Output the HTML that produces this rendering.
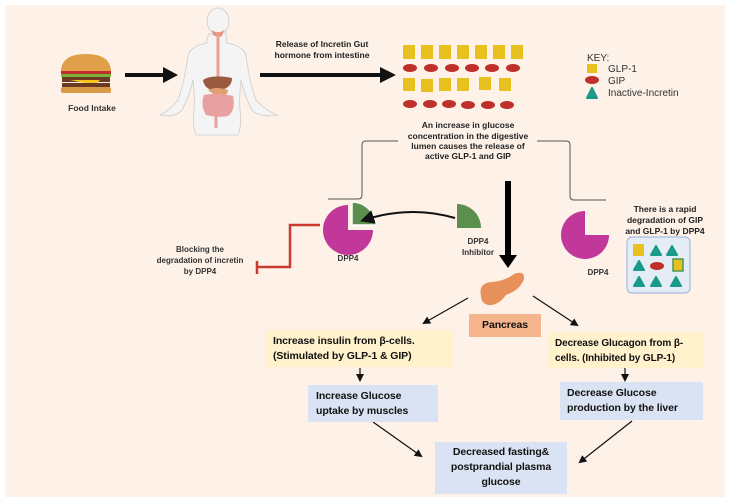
<!DOCTYPE html>
<html><head><meta charset="utf-8"><style>
body{margin:0;background:#fff;width:730px;height:504px;overflow:hidden;font-family:"Liberation Sans",Arial,sans-serif}
svg{position:absolute;left:0;top:0}
.b{position:absolute;font-weight:bold;font-size:10.5px;color:#111;line-height:15px;box-sizing:border-box;white-space:nowrap;letter-spacing:-0.1px}
</style></head><body>
<svg width="730" height="504" viewBox="0 0 730 504">
<defs>
<marker id="ah" markerWidth="8" markerHeight="8" refX="6" refY="4" orient="auto" markerUnits="userSpaceOnUse"><path d="M0,0 L8,4 L0,8 Z" fill="#111"/></marker>
<marker id="ah2" markerWidth="14" markerHeight="14" refX="10" refY="7" orient="auto" markerUnits="userSpaceOnUse"><path d="M0,0 L14,7 L0,14 Z" fill="#111"/></marker>
</defs>
<rect x="5" y="5" width="720" height="492" fill="#fdf1e8"/>
<!-- burger -->
<path d="M61,72 Q61,54 86,54 Q111,54 111,72 Z" fill="#e0a04a"/>
<rect x="61" y="71" width="50" height="3" fill="#c0302a"/>
<rect x="61" y="74" width="50" height="3" fill="#7bb23a"/>
<rect x="62" y="77" width="48" height="5" fill="#6a3a22"/>
<path d="M70,80 L100,80 L95,85 Z" fill="#f5c518"/>
<rect x="62" y="83" width="48" height="4" fill="#6a3a22"/>
<rect x="61" y="87" width="50" height="6" rx="2" fill="#d99a48"/>
<text x="92" y="111" font-size="8.5" font-weight="bold" fill="#333" text-anchor="middle">Food Intake</text>
<!-- arrow 1 -->
<line x1="125" y1="75" x2="165" y2="75" stroke="#111" stroke-width="4"/>
<path d="M163,67 L178,75 L163,83 Z" fill="#111"/>
<!-- body -->
<path d="M209,34 Q206,40 207,43 Q190,46 188,56 Q185,80 178,100 Q170,110 160,115 Q175,118 182,110 Q190,95 193,80 Q195,100 194,110 Q192,125 196,135 L238,135 Q242,125 240,110 Q239,100 241,80 Q244,95 252,110 Q259,118 277,115 Q265,110 256,100 Q249,80 246,56 Q244,46 227,43 Q226,38 226,32 Z" fill="#f4f4f4" stroke="#ccc" stroke-width="0.8"/>
<ellipse cx="218" cy="21" rx="11" ry="13" fill="#f4f4f4" stroke="#ccc" stroke-width="0.8"/>
<path d="M212,30 Q218,35 224,30 L222,36 Q218,38 213,35 Z" fill="#e89080"/>
<path d="M218,32 L218,78" stroke="#eaa090" stroke-width="3" fill="none"/>
<path d="M203,80 Q212,74 232,78 Q232,88 220,90 Q205,92 203,80 Z" fill="#9a5a40"/>
<path d="M208,90 Q216,86 228,90 Q228,97 216,96 Z" fill="#e0a070"/>
<path d="M204,95 Q218,92 233,96 Q236,110 228,116 Q218,118 206,115 Q200,105 204,95 Z" fill="#e8a0a0"/>
<path d="M216,115 L216,128" stroke="#e8a0a0" stroke-width="3"/>
<!-- arrow 2 -->
<line x1="260" y1="75" x2="382" y2="75" stroke="#111" stroke-width="4"/>
<path d="M380,67 L396,75 L380,83 Z" fill="#111"/>
<text x="322" y="47" font-size="8.5" font-weight="bold" fill="#222" text-anchor="middle">Release of Incretin Gut</text>
<text x="322" y="58" font-size="8.5" font-weight="bold" fill="#222" text-anchor="middle">hormone from intestine</text>
<!-- incretins -->
<g fill="#e8c020">
<rect x="403" y="45" width="12" height="14"/><rect x="421" y="45" width="12" height="14"/><rect x="439" y="45" width="12" height="14"/><rect x="457" y="45" width="12" height="14"/><rect x="475" y="45" width="12" height="14"/><rect x="493" y="45" width="12" height="14"/><rect x="511" y="45" width="12" height="14"/>
<rect x="403" y="78" width="12" height="13"/><rect x="421" y="79" width="12" height="13"/><rect x="439" y="78" width="12" height="13"/><rect x="457" y="78" width="12" height="13"/><rect x="479" y="77" width="12" height="13"/><rect x="499" y="78" width="12" height="13"/>
</g>
<g fill="#c0302a">
<ellipse cx="410" cy="68" rx="7" ry="4"/><ellipse cx="431" cy="68" rx="7" ry="4"/><ellipse cx="452" cy="68" rx="7" ry="4"/><ellipse cx="472" cy="68" rx="7" ry="4"/><ellipse cx="492" cy="68" rx="7" ry="4"/><ellipse cx="513" cy="68" rx="7" ry="4"/>
<ellipse cx="410" cy="104" rx="7" ry="4"/><ellipse cx="430" cy="104" rx="7" ry="4"/><ellipse cx="449" cy="104" rx="7" ry="4"/><ellipse cx="468" cy="105" rx="7" ry="4"/><ellipse cx="488" cy="105" rx="7" ry="4"/><ellipse cx="507" cy="105" rx="7" ry="4"/>
</g>
<!-- key -->
<text x="587" y="61" font-size="10" fill="#333">KEY:</text>
<rect x="587" y="64" width="10" height="9" fill="#e8c020"/><text x="608" y="72" font-size="10" fill="#333">GLP-1</text>
<ellipse cx="592" cy="80" rx="7" ry="4" fill="#c0302a"/><text x="608" y="84" font-size="10" fill="#333">GIP</text>
<path d="M587,98 L592,88 L597,98 Z" fill="#1a9a8a" stroke="#1a9a8a" stroke-width="2" stroke-linejoin="round"/><text x="608" y="96" font-size="10" fill="#333">Inactive-Incretin</text>
<g font-size="8.5" font-weight="bold" fill="#222" text-anchor="middle">
<text x="468" y="128">An increase in glucose</text>
<text x="468" y="139">concentration in the digestive</text>
<text x="468" y="149">lumen causes the release of</text>
<text x="468" y="159">active GLP-1 and GIP</text>
</g>
<path d="M328,199 L358,199 Q362,199 362,195 L362,145 Q362,141 366,141 L398,141" fill="none" stroke="#555" stroke-width="1"/>
<path d="M537,141 L566,141 Q570,141 570,145 L570,196 Q570,200 574,200 L606,200" fill="none" stroke="#555" stroke-width="1"/>
<!-- big down arrow -->
<line x1="508" y1="181" x2="508" y2="256" stroke="#000" stroke-width="6"/>
<path d="M499,255 L508,268 L517,255 Z" fill="#000"/>
<!-- left DPP4 -->
<path d="M348,230 L348,205 A25,25 0 1 0 373,230 Z" fill="#c2379a"/>
<path d="M352,225 L352,202 A24,24 0 0 1 376,225 Z" fill="#5a8f4e" stroke="#fff" stroke-width="1.5"/>
<text x="348" y="261" font-size="8" font-weight="bold" fill="#333" text-anchor="middle">DPP4</text>
<path d="M455,218 Q410,205 364,220" fill="none" stroke="#111" stroke-width="2" marker-end="url(#ah2)"/>
<path d="M457,228 L457,204 A24,24 0 0 1 481,228 Z" fill="#5a8f4e"/>
<text x="478" y="244" font-size="8" font-weight="bold" fill="#333" text-anchor="middle">DPP4</text>
<text x="478" y="255" font-size="8" font-weight="bold" fill="#333" text-anchor="middle">Inhibitor</text>
<path d="M320,225 L290,225 L290,267 L258,267 M257,261 L257,274" fill="none" stroke="#c83a30" stroke-width="2.5"/>
<g font-size="8" font-weight="bold" fill="#333" text-anchor="middle">
<text x="200" y="252">Blocking the</text><text x="200" y="263">degradation of incretin</text><text x="200" y="274">by DPP4</text>
</g>
<!-- right DPP4 -->
<path d="M585,235 L585,211 A24,24 0 1 0 609,235 Z" fill="#c2379a"/>
<text x="598" y="275" font-size="8" font-weight="bold" fill="#333" text-anchor="middle">DPP4</text>
<g font-size="8.5" font-weight="bold" fill="#222" text-anchor="middle">
<text x="665" y="212">There is a rapid</text><text x="665" y="223">degradation of GIP</text><text x="665" y="234">and GLP-1 by DPP4</text>
</g>
<rect x="627" y="237" width="63" height="56" rx="5" fill="#e4ecf6" stroke="#a8bce0" stroke-width="1.2"/>
<g fill="#1a9a8a" stroke="#1a9a8a" stroke-width="2" stroke-linejoin="round">
<path d="M651,255 L656,246 L661,255 Z"/><path d="M667,255 L672,246 L677,255 Z"/>
<path d="M634,270 L639,261 L644,270 Z"/>
<path d="M634,286 L639,277 L644,286 Z"/><path d="M651,286 L656,277 L661,286 Z"/><path d="M671,286 L676,277 L681,286 Z"/>
</g>
<rect x="633" y="244" width="11" height="12" fill="#e8c020"/>
<rect x="673" y="259" width="10" height="12" fill="#e8c020" stroke="#4a9a5a" stroke-width="1.5"/>
<ellipse cx="657" cy="266" rx="7" ry="4" fill="#c0302a"/>
<!-- pancreas -->
<path d="M481,296 Q478,283 492,282 Q505,281 514,274 Q525,270 524,279 Q520,290 506,295 Q498,306 488,305 Q481,303 481,296 Z" fill="#e8905a"/>
<!-- lower arrows -->
<g stroke="#111" stroke-width="1.2" fill="none" marker-end="url(#ah)">
<line x1="468" y1="298" x2="424" y2="323"/>
<line x1="533" y1="296" x2="577" y2="325"/>
<line x1="360" y1="368" x2="360" y2="380"/>
<line x1="625" y1="367" x2="625" y2="380"/>
<line x1="373" y1="422" x2="421" y2="456"/>
<line x1="632" y1="421" x2="580" y2="462"/>
</g>
</svg>
<div class="b" style="left:469px;top:314px;width:72px;height:23px;background:#f5b48c;text-align:center;line-height:23px">Pancreas</div>
<div class="b" style="left:265px;top:330px;width:188px;height:37px;background:#fff2cc;padding:4px 0 0 8px">Increase insulin from β-cells.<br>(Stimulated by GLP-1 &amp; GIP)</div>
<div class="b" style="left:548px;top:332px;width:155px;height:36px;background:#fff2cc;padding:4px 0 0 7px;font-size:10px">Decrease Glucagon from β-<br>cells. (Inhibited by GLP-1)</div>
<div class="b" style="left:308px;top:385px;width:130px;height:37px;background:#dae3f3;padding:4px 0 0 8px">Increase Glucose<br>uptake by muscles</div>
<div class="b" style="left:560px;top:382px;width:143px;height:38px;background:#dae3f3;padding:4px 0 0 7px">Decrease Glucose<br>production by the liver</div>
<div class="b" style="left:435px;top:442px;width:132px;height:52px;background:#dae3f3;padding:3px 0 0 0;text-align:center">Decreased fasting&amp;<br>postprandial plasma<br>glucose</div>
</body></html>
